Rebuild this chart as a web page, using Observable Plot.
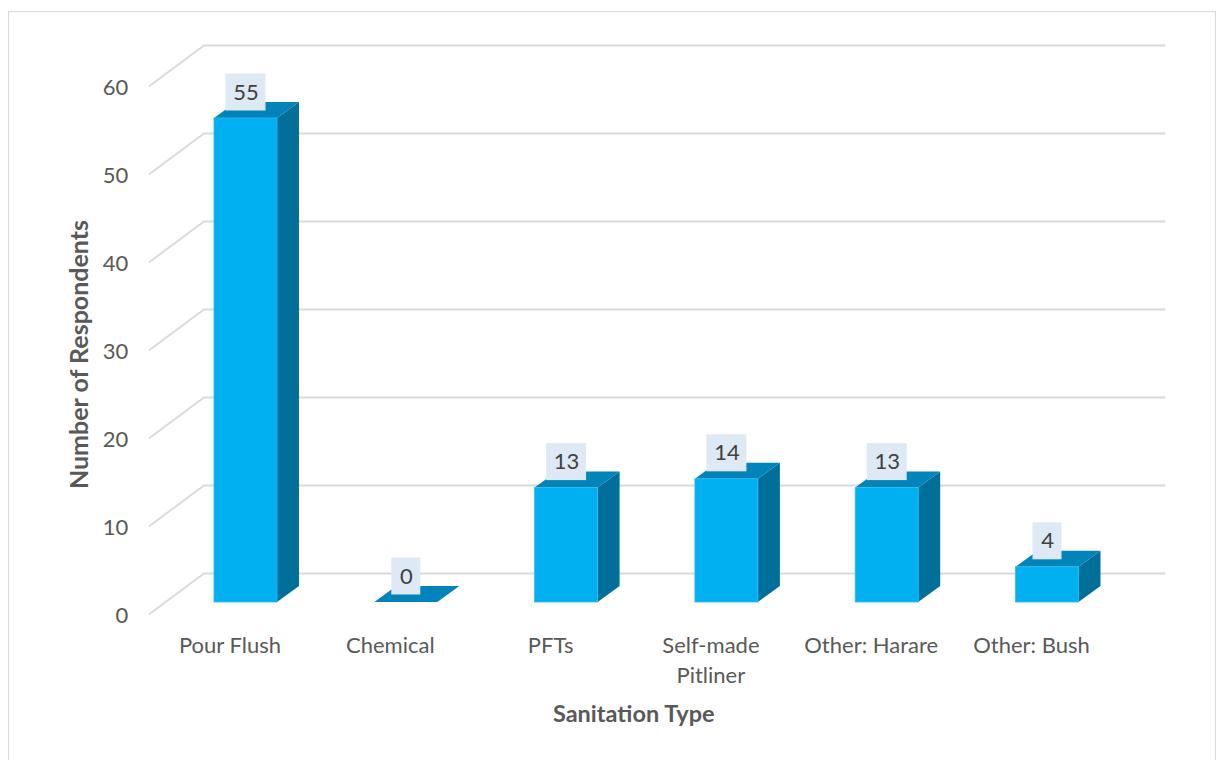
<!DOCTYPE html>
<html>
<head>
<meta charset="utf-8">
<script src="https://cdn.jsdelivr.net/npm/d3@7"></script>
<script src="https://cdn.jsdelivr.net/npm/@observablehq/plot@0.6"></script>
<style>
  html, body { margin: 0; padding: 0; background: #fff; }
  #wrap { position: relative; width: 1219px; height: 760px; overflow: hidden; }
  #border { position: absolute; left: 8px; top: 11px; width: 1208px; height: 800px; border: 1px solid #d9d9d9; box-sizing: border-box; }
  #chart { position: absolute; left: 0; top: 0; }
</style>
</head>
<body>
<div id="wrap"><div id="border"></div><div id="chart"></div></div>
<script>
// ---- data ----
const categories = ["Pour Flush", "Chemical", "PFTs", "Self-made\nPitliner", "Other: Harare", "Other: Bush"];
const respondents = [55, 0, 13, 14, 13, 4];
const yTicks = [0, 10, 20, 30, 40, 50, 60];
const yTitle = "Number of Respondents";
const xTitle = "Sanitation Type";

// ---- layout / style constants ----
const W = 1219, H = 760;
const mL = 165.35, mR = 91.85, mT = 74, mB = 158;
const PX = (W - mL - mR) / 6;        // px per category unit
const PY = (H - mT - mB) / 60;       // px per respondent unit
const HALF = 31.5 / PX;              // half bar width
const DX = 22 / PX, DY = 16 / PY;    // bar depth
const FONT = "Lato, 'Open Sans', sans-serif";
const FRONT = "#00B0F0", TOP = "#0284BA", SIDE = "#00709A";

const bars = categories.map((c, i) => ({cat: c, i, v: respondents[i]}));
const topFaces = bars.flatMap(d => [
  {cat: d.cat, y: d.v, x1: d.i - HALF, x2: d.i + HALF},
  {cat: d.cat, y: d.v + DY, x1: d.i - HALF + DX, x2: d.i + HALF + DX}
]);
const sideFaces = bars.flatMap(d => [
  {cat: d.cat, x: d.i + HALF, y1: 0, y2: d.v},
  {cat: d.cat, x: d.i + HALF + DX, y1: DY, y2: d.v + DY}
]);
const boxW = d => (String(d.v).length > 1 ? 40 : 29) / PX / 2;

const chart = Plot.plot({
  width: W, height: H,
  marginLeft: mL, marginRight: mR, marginTop: mT, marginBottom: mB,
  style: {fontFamily: FONT, background: "transparent"},
  x: {type: "linear", domain: [-0.5, 5.5], axis: null},
  y: {type: "linear", domain: [0, 60], axis: null},
  marks: [
    // back wall gridlines
    Plot.ruleY(yTicks, {y: d => d, x1: -0.5, x2: 5.5, dx: 38, dy: -29, stroke: "#d9d9d9", strokeWidth: 1.8}),
    // side wall diagonals
    Plot.link(yTicks, {
      x1: -0.5 - 17 / PX, y1: d => d - 12 / PY,
      x2: -0.5 + 38 / PX, y2: d => d + 29 / PY,
      stroke: "#d9d9d9", strokeWidth: 1.8
    }),
    // bars: side, top, front
    Plot.areaY(sideFaces, {x: "x", y1: "y1", y2: "y2", z: "cat", fill: SIDE}),
    Plot.areaX(topFaces, {y: "y", x1: "x1", x2: "x2", z: "cat", fill: TOP}),
    Plot.rect(bars, {x1: d => d.i - HALF, x2: d => d.i + HALF, y1: 0, y2: "v", fill: FRONT, stroke: "#2bbcf2", strokeWidth: 0.8}),
    // data label boxes
    Plot.rect(bars, {
      x1: d => d.i - boxW(d), x2: d => d.i + boxW(d),
      y1: "v", y2: d => d.v + 37 / PY, dy: -7.5, fill: "#DDE9F5"
    }),
    Plot.text(bars, {x: "i", y: "v", text: d => String(d.v), dy: -26, fontSize: 22, fill: "#404040"}),
    // y tick labels
    Plot.text(yTicks, {y: d => d, frameAnchor: "left", dx: -37.5, dy: 13, textAnchor: "end", text: d => String(d), fontSize: 22, fill: "#595959"}),
    // x category labels
    Plot.text(bars, {x: "i", text: "cat", frameAnchor: "bottom", dx: -16, dy: 29, lineAnchor: "top", lineHeight: 1.36, fontSize: 22, fill: "#595959"}),
    // axis titles
    Plot.text([yTitle], {frameAnchor: "left", textAnchor: "middle", dx: -86, dy: 16, rotate: -90, fontSize: 25, fontWeight: "bold", fill: "#595959"}),
    Plot.text([xTitle], {frameAnchor: "bottom", dx: -13, dy: 119, fontSize: 23.5, fontWeight: "bold", fill: "#595959"})
  ]
});
document.getElementById("chart").appendChild(chart);
</script>
</body>
</html>
